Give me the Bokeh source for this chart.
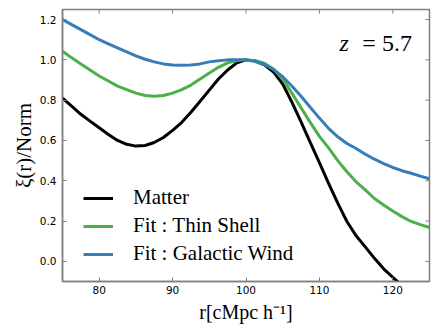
from bokeh.plotting import figure
from bokeh.models import FixedTicker, PrintfTickFormatter, Legend, LegendItem, Label, Title
from bokeh.embed import file_html
from bokeh.resources import INLINE

# ---- data ----
r = [75, 76.25, 77.5, 78.75, 80, 81.25, 82.5, 83.75, 85, 86.25, 87.5, 88.75, 90,
     91.25, 92.5, 93.75, 95, 96.25, 97.5, 98.75, 100, 101.25, 102.5, 103.75, 105,
     106.25, 107.5, 108.75, 110, 111.25, 112.5, 113.75, 115, 116.25, 117.5, 118.75,
     120, 121.25, 122.5, 123.75, 125]
matter = [0.81, 0.77, 0.73, 0.696, 0.663, 0.63, 0.60, 0.581, 0.572, 0.575, 0.59, 0.615, 0.65,
          0.69, 0.74, 0.795, 0.85, 0.905, 0.95, 0.985, 1.00, 0.995, 0.975, 0.94, 0.88,
          0.79, 0.692, 0.59, 0.49, 0.387, 0.289, 0.198, 0.127, 0.072, 0.015, -0.037,
          -0.079, -0.12, -0.16, -0.20, -0.24]
thin_shell = [1.043, 1.01, 0.98, 0.95, 0.92, 0.895, 0.87, 0.852, 0.835, 0.823, 0.82, 0.823, 0.835,
              0.852, 0.875, 0.905, 0.935, 0.963, 0.985, 0.997, 1.00, 0.996, 0.983, 0.955, 0.905,
              0.835, 0.762, 0.69, 0.62, 0.563, 0.50, 0.445, 0.395, 0.355, 0.312, 0.28,
              0.25, 0.222, 0.198, 0.182, 0.168]
gal_wind = [1.20, 1.175, 1.15, 1.125, 1.10, 1.08, 1.06, 1.04, 1.02, 1.003, 0.99, 0.98, 0.975,
            0.973, 0.975, 0.98, 0.99, 0.996, 1.00, 1.00, 1.00, 0.992, 0.977, 0.952, 0.916,
            0.87, 0.819, 0.765, 0.711, 0.66, 0.618, 0.585, 0.56, 0.532, 0.507, 0.485,
            0.466, 0.45, 0.437, 0.423, 0.41]

series_names = ["Matter", "Fit : Thin Shell", "Fit : Galactic Wind"]
series_colors = ["#000000", "#4daf4a", "#377eb8"]
x_ticks = [80, 90, 100, 110, 120]
y_ticks = [0.0, 0.2, 0.4, 0.6, 0.8, 1.0, 1.2]
x_label = "r[cMpc h\u207b\u00b9]"
y_label = "\u03be(r)/Norm"

X0, X1, Y0, Y1 = 75, 125, -0.1, 1.25
FW, FH = 367, 272
AX = "#808080"
TICK_FONT = "DejaVu Sans"
SERIF = "Liberation Serif"

p = figure(frame_width=FW, frame_height=FH, x_range=(X0, X1), y_range=(Y0, Y1),
           output_backend="svg", toolbar_location=None,
           min_border_left=62, min_border_right=6, min_border_top=9, min_border_bottom=40)
p.xgrid.visible = False
p.ygrid.visible = False
p.outline_line_color = AX
p.outline_line_width = 1.5
p.background_fill_color = "white"
p.border_fill_color = "white"

for ax, ticks in ((p.xaxis[0], x_ticks), (p.yaxis[0], y_ticks)):
    ax.ticker = FixedTicker(ticks=ticks)
    ax.axis_line_color = AX
    ax.axis_line_width = 1.5
    ax.major_tick_line_color = AX
    ax.major_tick_in = 4
    ax.major_tick_out = 0
    ax.minor_tick_line_color = None
    ax.major_label_text_font = TICK_FONT
    ax.major_label_text_font_size = "10.5px"
    ax.major_label_text_color = "#000000"

p.yaxis[0].formatter = PrintfTickFormatter(format="%.1f")
p.xaxis[0].major_label_standoff = 4
p.yaxis[0].major_label_standoff = 6
p.xaxis[0].axis_label = x_label
p.xaxis[0].axis_label_text_font = SERIF
p.xaxis[0].axis_label_text_font_size = "20px"
p.xaxis[0].axis_label_text_font_style = "normal"
p.xaxis[0].axis_label_text_color = "#000000"
p.xaxis[0].axis_label_standoff = 4

# y-axis title as a left-side Title centred on the frame
p.add_layout(Title(text=y_label, align="center", text_font=SERIF, text_font_size="21px",
                   text_font_style="normal", text_color="#000000", standoff=2), "left")

# inward ticks on the top and right edges of the frame (4 px long)
tx = 4 * (X1 - X0) / FW
ty = 4 * (Y1 - Y0) / FH
p.segment(x0=x_ticks, y0=[Y1] * len(x_ticks), x1=x_ticks, y1=[Y1 - ty] * len(x_ticks),
          line_color=AX, line_width=1)
p.segment(x0=[X1] * len(y_ticks), y0=y_ticks, x1=[X1 - tx] * len(y_ticks), y1=y_ticks,
          line_color=AX, line_width=1)

renderers = []
for ys, c in zip([matter, thin_shell, gal_wind], series_colors):
    renderers.append(p.line(r, ys, line_color=c, line_width=3))

legend = Legend(items=[LegendItem(label=n, renderers=[rr]) for n, rr in zip(series_names, renderers)],
                location=(21, 15))
legend.label_text_font = SERIF
legend.label_text_font_size = "21px"
legend.label_text_color = "#000000"
legend.label_standoff = 20
legend.glyph_width = 30
legend.glyph_height = 20
legend.label_height = 20
legend.spacing = 3
legend.padding = 0
legend.margin = 0
legend.border_line_color = None
legend.background_fill_alpha = 0
p.add_layout(legend)

p.add_layout(Label(x=114.0, y=1.084, text="z", text_font=SERIF, text_font_style="italic",
                   text_color="#000000", text_font_size="24px", text_align="right",
                   text_baseline="alphabetic"))
p.add_layout(Label(x=122.6, y=1.084, text="= 5.7", text_font=SERIF, text_color="#000000",
                   text_font_size="24px", text_align="right", text_baseline="alphabetic"))

open("out.html", "w").write(file_html(p, INLINE))
